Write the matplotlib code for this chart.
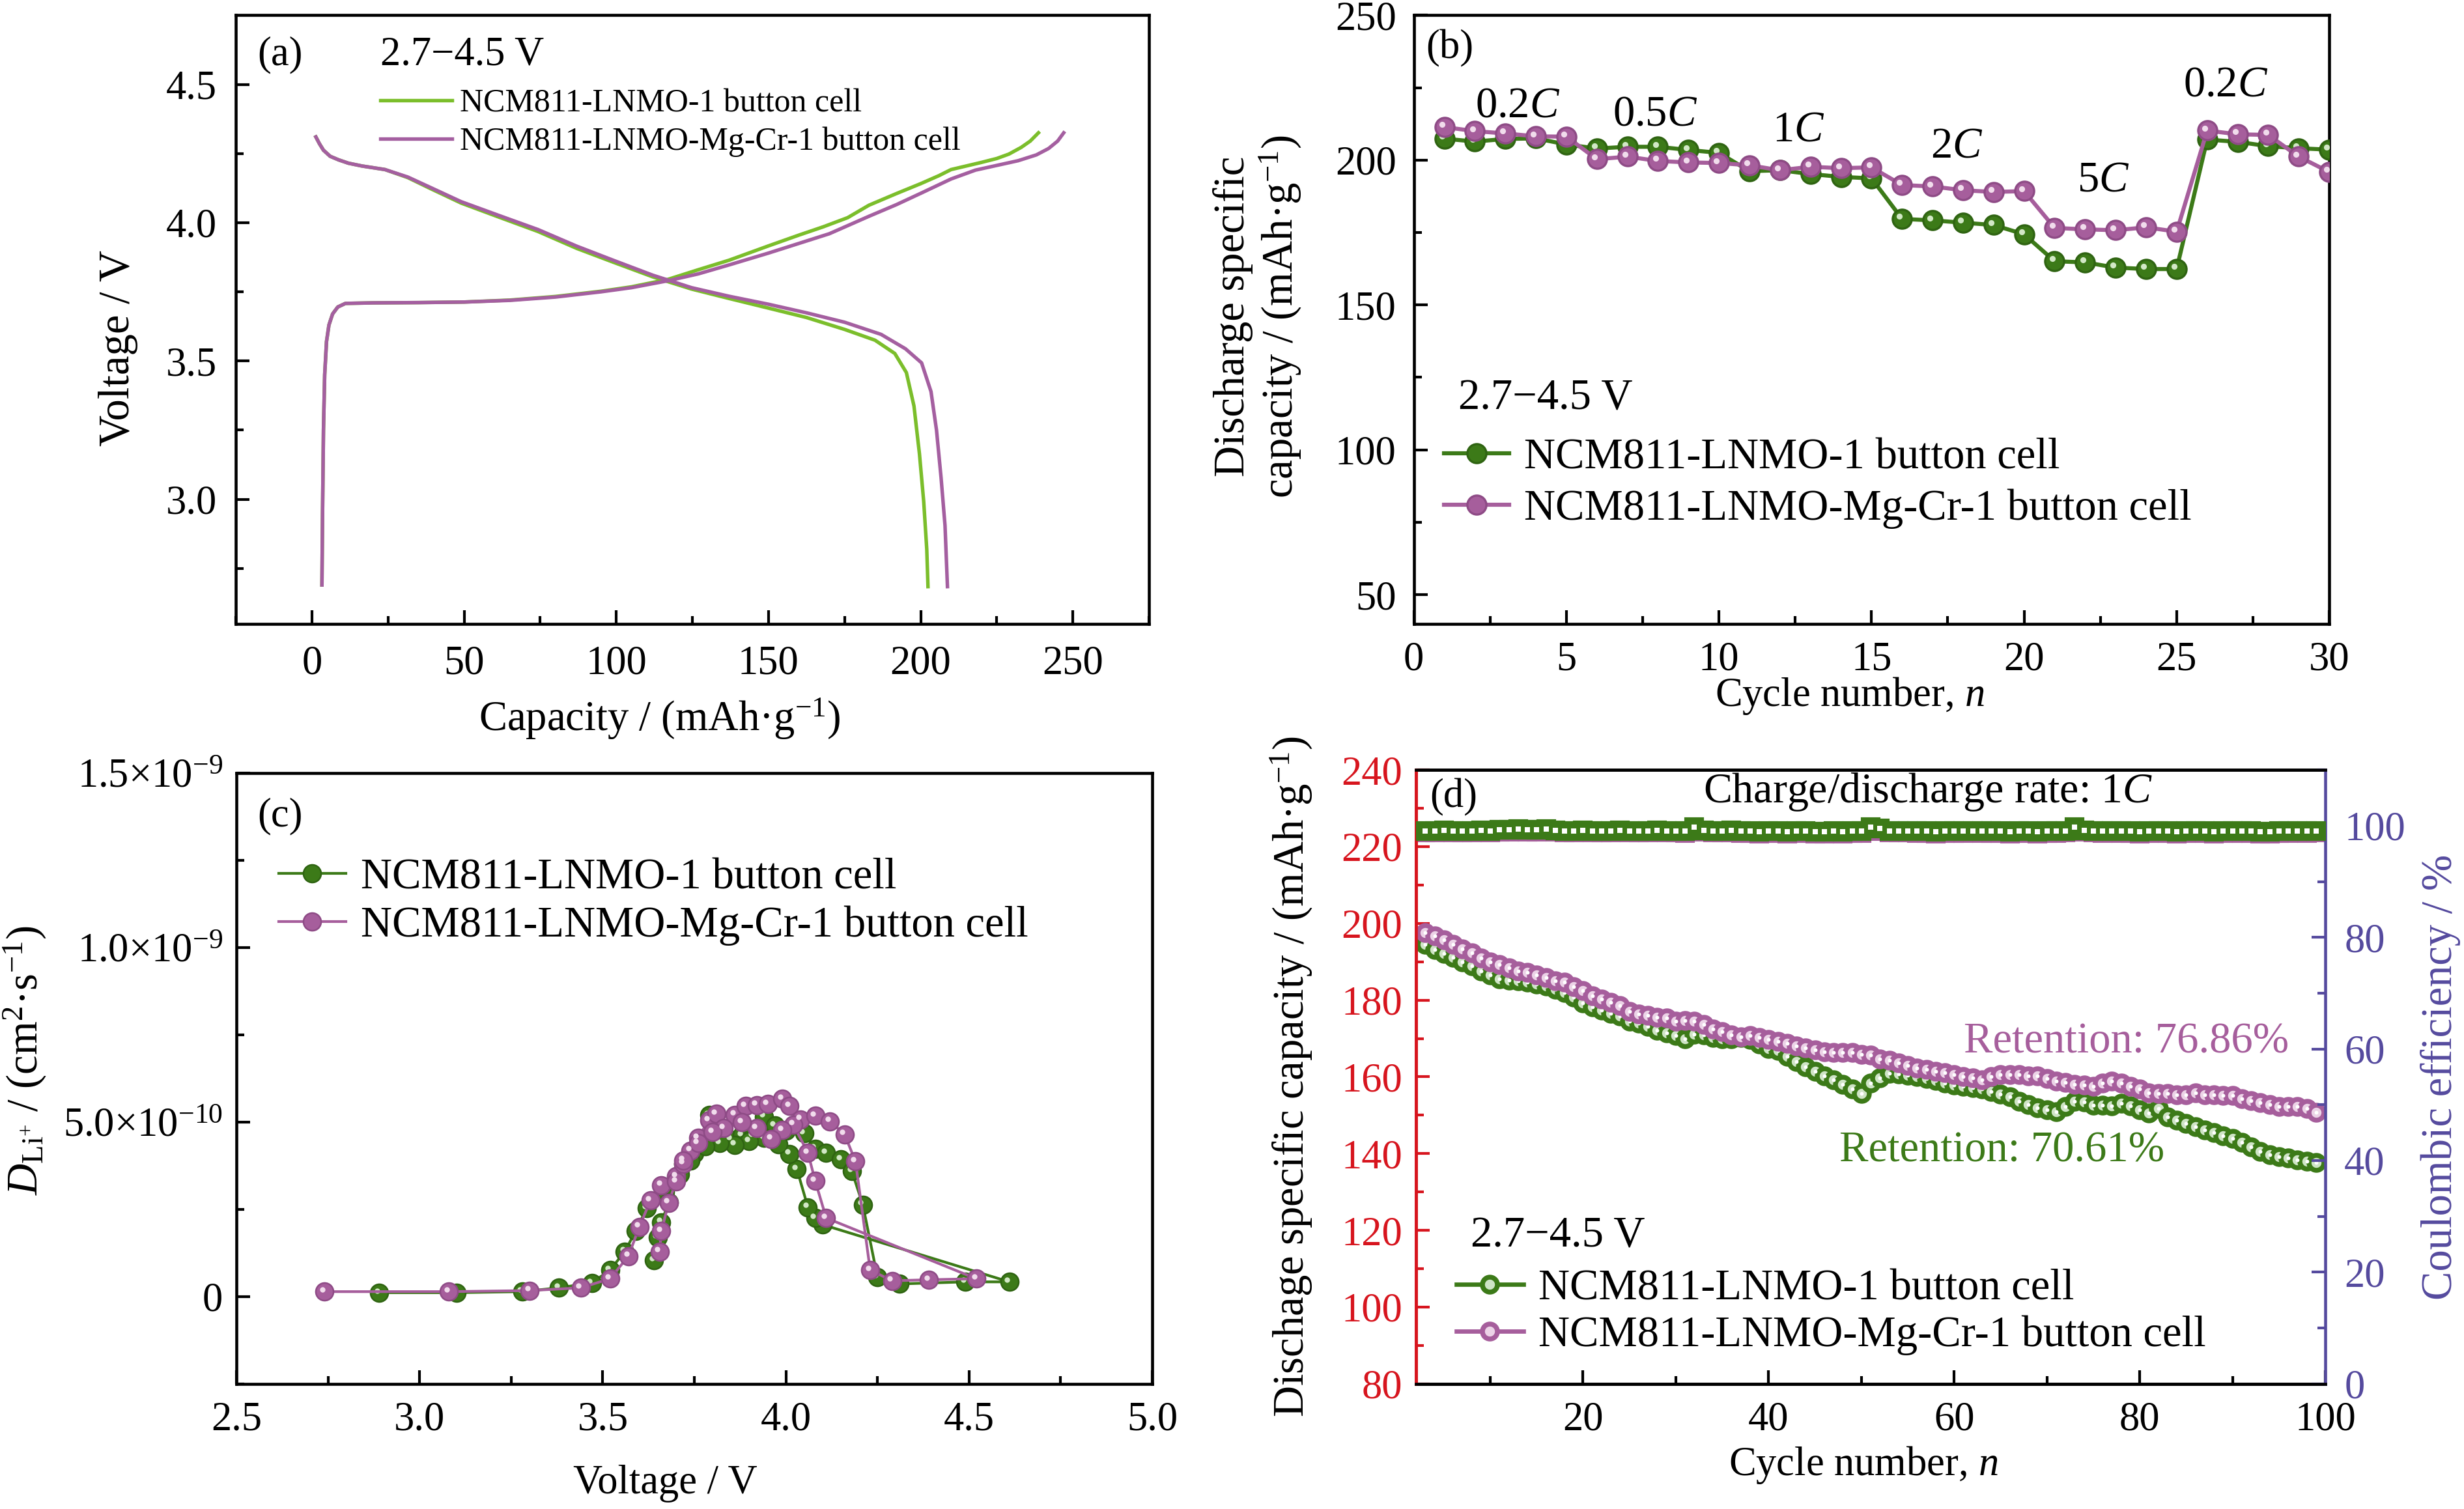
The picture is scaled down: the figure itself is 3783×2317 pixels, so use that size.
import numpy as np
import matplotlib
matplotlib.use("Agg")
import matplotlib.pyplot as plt
from matplotlib.ticker import MultipleLocator, FixedLocator, FixedFormatter, FormatStrFormatter
from matplotlib.transforms import offset_copy
from matplotlib.lines import Line2D

plt.rcParams['font.family'] = ['Liberation Serif', 'DejaVu Serif']
plt.rcParams['mathtext.fontset'] = 'custom'
plt.rcParams['mathtext.rm'] = 'Liberation Serif'
plt.rcParams['mathtext.it'] = 'Liberation Serif:italic'
plt.rcParams['mathtext.bf'] = 'Liberation Serif:bold'

# ---------------- data ----------------
LABEL_1 = "NCM811-LNMO-1 button cell"
LABEL_2 = "NCM811-LNMO-Mg-Cr-1 button cell"
RANGE_TXT = "2.7\u22124.5 V"

# (a) charge / discharge curves
a_g_chg_cap = [3.3, 3.5, 3.8, 4.2, 4.8, 5.6, 6.8, 8.5, 11, 20, 35, 50, 65, 80, 95, 105, 117, 127, 137,
               150, 160, 168, 176, 183, 192, 200, 206, 210, 215, 220, 225, 229, 233, 236, 238.7]
a_g_chg_v = [2.69, 2.95, 3.25, 3.45, 3.57, 3.63, 3.67, 3.695, 3.708, 3.71, 3.711, 3.713, 3.72, 3.733,
             3.752, 3.768, 3.795, 3.83, 3.864, 3.916, 3.955, 3.985, 4.018, 4.063, 4.105, 4.141, 4.17,
             4.192, 4.205, 4.218, 4.232, 4.248, 4.272, 4.295, 4.325]
a_p_chg_cap = [3.3, 3.5, 3.8, 4.2, 4.8, 5.6, 6.8, 8.5, 11, 20, 35, 50, 65, 80, 95, 105, 117, 127, 137,
               150, 160, 170, 183, 192, 200, 210, 218, 225, 232, 238, 242, 245, 247]
a_p_chg_v = [2.69, 2.95, 3.25, 3.45, 3.57, 3.63, 3.67, 3.695, 3.708, 3.71, 3.711, 3.713, 3.719, 3.731,
             3.75, 3.765, 3.79, 3.815, 3.847, 3.89, 3.925, 3.96, 4.023, 4.065, 4.106, 4.158, 4.19,
             4.207, 4.224, 4.245, 4.268, 4.295, 4.325]
a_g_dis_cap = [1.3, 2.5, 3.8, 6, 8.8, 12, 16.4, 24, 31.5, 39, 49, 61.7, 74.3, 87, 99.5, 112, 124.7,
               137, 150, 162.5, 175, 185, 191.5, 195.3, 197.8, 199.6, 201, 202, 202.4]
a_g_dis_v = [4.31, 4.285, 4.262, 4.24, 4.227, 4.215, 4.205, 4.192, 4.163, 4.123, 4.071, 4.019, 3.968,
             3.907, 3.855, 3.804, 3.76, 3.726, 3.691, 3.657, 3.614, 3.575, 3.527, 3.458, 3.337,
             3.164, 2.991, 2.819, 2.684]
a_p_dis_cap = [1.3, 2.5, 3.8, 6, 8.8, 12, 16.4, 24, 31.5, 39, 49, 61.7, 74.3, 87, 99.5, 112, 124.7,
               137, 150, 162.5, 175, 187, 195, 200.3, 203.4, 205.2, 206.7, 208, 208.8]
a_p_dis_v = [4.31, 4.285, 4.262, 4.24, 4.227, 4.215, 4.205, 4.192, 4.165, 4.127, 4.076, 4.025, 3.975,
             3.915, 3.862, 3.81, 3.765, 3.734, 3.705, 3.674, 3.64, 3.596, 3.544, 3.493, 3.389,
             3.25, 3.078, 2.905, 2.684]

# (b) rate capability
b_cycles = list(range(1, 31))
b_green = [207.4, 206.4, 207.3, 207.5, 205.4, 204.0, 204.6, 204.6, 203.5, 202.5,
           196.2, 196.5, 195.2, 194.2, 193.7, 179.7, 179.2, 178.4, 177.6, 174.4,
           165.1, 164.7, 162.9, 162.4, 162.4, 207.1, 206.3, 204.8, 204.1, 203.6]
b_pink = [211.4, 210.0, 209.2, 208.2, 208.1, 200.3, 201.2, 199.7, 199.2, 199.0,
          198.2, 196.5, 197.7, 197.2, 197.5, 191.4, 190.9, 189.6, 189.0, 189.3,
          176.6, 176.1, 175.8, 176.8, 175.3, 210.2, 208.9, 208.7, 201.2, 195.9]
b_rate_text = ["0.2$C$", "0.5$C$", "1$C$", "2$C$", "5$C$", "0.2$C$"]
b_rate_x = [3.4, 7.9, 12.6, 17.8, 22.6, 26.6]
b_rate_y = [218.6, 215.7, 210.4, 204.6, 193.0, 225.9]

# (c) Li+ diffusion coefficient (x1e-10 cm2/s)
c_g_chg_v = [2.89, 3.10, 3.28, 3.38, 3.47, 3.52, 3.56, 3.59, 3.62, 3.67, 3.70, 3.72, 3.75, 3.77, 3.79,
             3.82, 3.85, 3.88, 3.91, 3.94, 3.97, 4.00, 4.05, 4.08, 4.11, 4.15, 4.18, 4.21, 4.25, 4.31,
             4.49, 4.61]
c_g_chg_d = [0.11, 0.11, 0.14, 0.25, 0.39, 0.76, 1.29, 1.88, 2.53, 3.00, 3.40, 3.81, 4.10, 4.45, 5.20,
             4.60, 4.50, 4.62, 4.60, 5.15, 4.90, 4.75, 4.68, 4.24, 4.12, 3.93, 3.59, 2.63, 0.55, 0.36,
             0.42, 0.42]
c_g_dis_v = [4.10, 4.08, 4.06, 4.03, 4.01, 3.98, 3.94, 3.90, 3.86, 3.82, 3.78, 3.74, 3.71, 3.68, 3.66,
             3.65, 3.64]
c_g_dis_d = [2.06, 2.25, 2.56, 3.65, 4.09, 4.37, 4.55, 4.45, 4.35, 4.40, 4.30, 3.90, 3.50, 2.70, 2.13,
             1.69, 1.04]
c_p_chg_v = [2.74, 3.08, 3.30, 3.44, 3.52, 3.57, 3.60, 3.63, 3.66, 3.70, 3.72, 3.74, 3.76, 3.79, 3.81,
             3.86, 3.89, 3.92, 3.95, 3.99, 4.01, 4.04, 4.08, 4.12, 4.16, 4.19, 4.23, 4.29, 4.39, 4.52]
c_p_chg_d = [0.14, 0.14, 0.17, 0.25, 0.51, 1.16, 2.00, 2.75, 3.19, 3.45, 3.81, 4.18, 4.55, 5.05, 5.24,
             5.21, 5.46, 5.49, 5.52, 5.67, 5.46, 5.08, 5.18, 5.02, 4.65, 3.87, 0.76, 0.45, 0.48, 0.51]
c_p_dis_v = [4.11, 4.08, 4.06, 4.02, 3.99, 3.96, 3.92, 3.88, 3.83, 3.80, 3.76, 3.72, 3.70, 3.68, 3.66,
             3.655]
c_p_dis_d = [2.25, 3.31, 4.12, 4.93, 4.77, 4.52, 4.83, 4.99, 4.83, 4.71, 4.40, 3.90, 3.30, 2.69, 1.88,
             1.29]

# (d) cycling at 1C
d_cycles = list(range(3, 100))
d_green = [194.5, 193.1, 192.1, 191.1, 190.0, 188.9, 187.6, 186.5, 185.6, 185.2,
           185.0, 184.6, 184.1, 183.7, 182.9, 182.0, 180.7, 179.3, 178.3, 177.3,
           176.6, 175.9, 174.5, 174.0, 173.1, 172.2, 171.4, 170.8, 169.9, 171.1,
           170.9, 170.3, 169.9, 169.9, 170.2, 169.7, 168.5, 167.4, 166.8, 165.4,
           164.0, 162.6, 161.4, 160.3, 159.3, 158.1, 156.9, 155.6,
           158.4, 159.8, 160.9, 160.8, 160.4, 160.0, 159.5, 159.1, 158.4, 157.8,
           157.5, 157.2, 156.8, 156.1, 155.5, 154.8, 153.6, 152.7, 152.0, 151.4,
           150.9, 152.2, 153.7, 153.4, 152.6, 152.6, 152.4, 153.1, 152.4, 151.4,
           150.5, 151.8, 149.6, 148.7, 147.9, 147.0, 146.2, 145.4, 144.6, 143.9,
           142.9, 141.8, 140.5, 139.7, 139.2, 138.8, 138.3, 138.0, 137.6]
d_pink = [197.5, 196.7, 195.8, 194.6, 193.4, 192.4, 191.0, 189.9, 189.2, 188.5,
          187.5, 187.2, 186.5, 185.8, 185.0, 184.6, 183.5, 182.4, 181.2, 180.3,
          179.4, 178.6, 177.1, 176.3, 176.0, 175.6, 175.3, 174.5, 174.6, 174.5,
          173.7, 172.5, 171.8, 170.9, 170.5, 170.8, 170.2, 169.8, 169.2, 168.7,
          168.1, 167.6, 167.0, 166.5, 166.4, 166.4, 166.4, 165.9,
          165.7, 164.7, 164.3, 163.6, 162.9, 162.3, 161.9, 161.5, 161.1, 160.6,
          160.1, 159.8, 159.2, 160.0, 160.5, 160.6, 160.5, 160.3, 160.3, 159.5,
          158.9, 158.5, 158.1, 157.9, 157.5, 158.3, 158.9, 158.3, 157.5, 156.8,
          155.8, 155.6, 155.6, 155.4, 155.4, 155.9, 155.4, 155.4, 155.1, 155.2,
          154.3, 153.8, 153.2, 152.8, 152.2, 152.3, 152.3, 151.8, 150.8]
d_ce_green = [99.1, 99.1, 99.2, 99.1, 99.1, 99.1, 99.2, 99.1,
              99.3, 99.3, 99.4, 99.3, 99.3, 99.4,
              99.2, 99.1, 99.1, 99.2, 99.1, 99.1, 99.1, 99.2, 99.1, 99.1, 99.1, 99.2, 99.1, 99.1, 99.0,
              99.7,
              99.2, 99.1, 99.1, 99.2, 99.0, 99.0, 98.9, 99.0, 99.0, 98.9, 99.0, 99.0, 98.9, 98.9, 99.0,
              98.9, 99.0, 99.0,
              99.8, 99.5,
              99.1, 99.1, 99.1, 99.0, 99.0, 98.9, 99.0, 99.0, 99.0, 99.1, 99.0, 99.0, 99.0, 98.9, 99.0,
              99.0, 98.9, 99.0, 99.0, 99.1,
              99.8, 99.2,
              99.1, 99.0, 99.1, 99.0, 99.0, 98.9, 99.0, 99.0, 99.0, 98.9, 99.0, 99.0, 99.0, 98.9, 99.0,
              99.0, 99.0, 99.0, 98.9, 98.9, 99.0, 99.0, 99.1, 99.0, 99.1]
d_ce_pink = [98.8, 98.8, 98.9, 98.8, 98.8, 98.8, 98.9, 98.8,
             98.9, 98.9, 99.0, 98.9, 98.9, 99.0,
             98.9, 98.8, 98.8, 98.9, 98.8, 98.8, 98.8, 98.9, 98.8, 98.8, 98.8, 98.9, 98.8, 98.8, 98.7,
             99.1,
             98.9, 98.8, 98.8, 98.8, 98.7, 98.7, 98.6, 98.7, 98.7, 98.6, 98.7, 98.7, 98.6, 98.6, 98.7,
             98.6, 98.7, 98.7,
             99.2, 99.0,
             98.8, 98.8, 98.8, 98.7, 98.7, 98.6, 98.7, 98.7, 98.7, 98.8, 98.7, 98.7, 98.7, 98.6, 98.7,
             98.7, 98.6, 98.7, 98.7, 98.8,
             99.2, 98.9,
             98.8, 98.7, 98.8, 98.7, 98.7, 98.6, 98.7, 98.7, 98.7, 98.6, 98.7, 98.7, 98.7, 98.6, 98.7,
             98.7, 98.7, 98.7, 98.6, 98.6, 98.7, 98.7, 98.8, 98.7, 98.8]

# ---------------- style ----------------
GREEN_A = '#7BBE2B'
PINK_A = '#A45FA0'
GREEN = '#3C7A18'
GREEN_D = '#2F6412'
PINK = '#A65E9C'
PINK_D = '#8E4B86'
RED = '#D7151E'
PURPLE = '#554A9E'
FS = 15
FS_LAB = 16
FS_LEG = 16


def style(ax):
    ax.tick_params(which='both', direction='in', top=False, right=False, labelsize=FS)
    ax.tick_params(which='major', length=5, width=1.0)
    ax.tick_params(which='minor', length=2.8, width=1.0)
    for s in ax.spines.values():
        s.set_linewidth(1.1)


def place_xlabel(ax, x, y):
    ax.xaxis.set_label_coords(x, y)
    ax.xaxis.label.set_va('center')


def place_ylabel(ax, x, y):
    ax.yaxis.set_label_coords(x, y)
    ax.yaxis.label.set_va('center')
    ax.yaxis.label.set_rotation_mode('anchor')


fig = plt.figure(figsize=(3783 / 300, 2317 / 300), dpi=300)

# ---------------- (a) ----------------
ax = fig.add_axes([0.0957, 0.5867, 0.3706, 0.4032])
style(ax)
ax.plot(a_g_chg_cap, a_g_chg_v, color=GREEN_A, lw=1.3, zorder=2)
ax.plot(a_g_dis_cap, a_g_dis_v, color=GREEN_A, lw=1.3, zorder=2)
ax.plot(a_p_chg_cap, a_p_chg_v, color=PINK_A, lw=1.3, zorder=3)
ax.plot(a_p_dis_cap, a_p_dis_v, color=PINK_A, lw=1.3, zorder=3)
ax.set_xlim(-25, 275)
ax.set_ylim(2.55, 4.75)
ax.xaxis.set_major_locator(MultipleLocator(50))
ax.xaxis.set_minor_locator(MultipleLocator(25))
ax.yaxis.set_major_locator(FixedLocator([3.0, 3.5, 4.0, 4.5]))
ax.yaxis.set_minor_locator(FixedLocator([2.75, 3.25, 3.75, 4.25]))
ax.tick_params(axis='x', pad=8)
ax.tick_params(axis='y', pad=7)
ax.set_xlabel("Capacity / (mAh\u00b7g$^{-1}$)", fontsize=15.5)
place_xlabel(ax, 0.464, -0.156)
ax.set_ylabel("Voltage / V", fontsize=FS_LAB)
place_ylabel(ax, -0.129, 0.453)
ax.text(0.024, 0.935, "(a)", transform=ax.transAxes, fontsize=FS, va='center')
ax.text(0.158, 0.935, RANGE_TXT, transform=ax.transAxes, fontsize=FS, va='center')
ax.legend(handles=[Line2D([], [], color=GREEN_A, lw=1.3), Line2D([], [], color=PINK_A, lw=1.3)],
          labels=[LABEL_1, LABEL_2], loc='upper left', bbox_to_anchor=(0.158, 0.88),
          frameon=False, fontsize=12, handlelength=2.2, handletextpad=0.25,
          labelspacing=0.25, borderpad=0, borderaxespad=0)

# ---------------- (b) ----------------
ax = fig.add_axes([0.5738, 0.5867, 0.3715, 0.4032])
style(ax)
hl = offset_copy(ax.transData, fig=fig, x=-0.9, y=0.9, units='points')
lg, = ax.plot(b_cycles, b_green, '-o', color=GREEN, mfc=GREEN, mec=GREEN_D, ms=7, mew=0.8,
              lw=1.5, zorder=3)
ax.plot(b_cycles, b_green, 'o', color='#d2e8c6', ms=2.2, mew=0, transform=hl, zorder=3.1)
lp, = ax.plot(b_cycles, b_pink, '-o', color=PINK, mfc=PINK, mec=PINK_D, ms=7, mew=0.8,
              lw=1.5, zorder=4)
ax.plot(b_cycles, b_pink, 'o', color='#f1dcec', ms=2.2, mew=0, transform=hl, zorder=4.1)
ax.set_xlim(0, 30)
ax.set_ylim(40, 250)
ax.xaxis.set_major_locator(MultipleLocator(5))
ax.xaxis.set_minor_locator(MultipleLocator(2.5))
ax.yaxis.set_major_locator(MultipleLocator(50))
ax.yaxis.set_minor_locator(MultipleLocator(25))
ax.tick_params(axis='x', pad=6.5)
ax.tick_params(axis='y', pad=6.5)
ax.set_xlabel("Cycle number, $n$", fontsize=FS)
place_xlabel(ax, 0.476, -0.119)
ax.set_ylabel("Discharge specific\ncapacity / (mAh\u00b7g$^{-1}$)", fontsize=FS_LAB,
              linespacing=1.12)
place_ylabel(ax, -0.170, 0.505)
ax.text(0.013, 0.945, "(b)", transform=ax.transAxes, fontsize=FS, va='center')
for t, x, y in zip(b_rate_text, b_rate_x, b_rate_y):
    ax.text(x, y, t, fontsize=FS_LEG, ha='center', va='center')
ax.text(1.45, 117.6, RANGE_TXT, fontsize=FS_LEG, va='center')
ax.legend(handles=[lg, lp], labels=[LABEL_1, LABEL_2],
          loc='upper left', bbox_to_anchor=(0.033, 0.305), frameon=False, fontsize=FS_LEG,
          handlelength=1.5, handletextpad=0.35, labelspacing=0.25, borderpad=0, borderaxespad=0)

# ---------------- (c) ----------------
ax = fig.add_axes([0.0960, 0.0830, 0.3716, 0.4047])
style(ax)
hl = offset_copy(ax.transData, fig=fig, x=-0.8, y=0.8, units='points')
g_v = c_g_chg_v + c_g_dis_v
g_d = [v * 1e-10 for v in c_g_chg_d + c_g_dis_d]
p_v = c_p_chg_v + c_p_dis_v
p_d = [v * 1e-10 for v in c_p_chg_d + c_p_dis_d]
lg, = ax.plot(g_v, g_d, '-o', color=GREEN, mfc=GREEN, mec=GREEN_D, ms=6.5, mew=0.6, lw=1.0, zorder=3)
ax.plot(g_v, g_d, 'o', color='#d2e8c6', ms=2.0, mew=0, transform=hl, zorder=3.1)
lp, = ax.plot(p_v, p_d, '-o', color=PINK, mfc=PINK, mec=PINK_D, ms=6.5, mew=0.6, lw=1.0, zorder=4)
ax.plot(p_v, p_d, 'o', color='#f1dcec', ms=2.0, mew=0, transform=hl, zorder=4.1)
ax.set_xlim(2.5, 5.0)
ax.set_ylim(-0.25e-9, 1.5e-9)
ax.xaxis.set_major_locator(MultipleLocator(0.5))
ax.xaxis.set_minor_locator(MultipleLocator(0.25))
ax.yaxis.set_major_locator(FixedLocator([0, 0.5e-9, 1.0e-9, 1.5e-9]))
ax.yaxis.set_major_formatter(FixedFormatter(["0", "5.0\u00d710$^{-10}$", "1.0\u00d710$^{-9}$",
                                             "1.5\u00d710$^{-9}$"]))
ax.yaxis.set_minor_locator(FixedLocator([-0.25e-9, 0.25e-9, 0.75e-9, 1.25e-9]))
ax.xaxis.set_major_formatter(FormatStrFormatter('%.1f'))
ax.tick_params(axis='x', pad=6.5)
ax.tick_params(axis='y', pad=5)
ax.set_xlabel("Voltage / V", fontsize=FS)
place_xlabel(ax, 0.468, -0.164)
ax.set_ylabel("$D_{\\rm Li^{+}}$ / (cm$^{2}$\u00b7s$^{-1}$)", fontsize=FS_LAB)
place_ylabel(ax, -0.231, 0.53)
ax.text(0.023, 0.929, "(c)", transform=ax.transAxes, fontsize=FS, va='center')
ax.legend(handles=[lg, lp], labels=[LABEL_1, LABEL_2],
          loc='upper left', bbox_to_anchor=(0.046, 0.861), frameon=False, fontsize=FS_LEG,
          handlelength=1.55, handletextpad=0.35, labelspacing=0.18, borderpad=0, borderaxespad=0)

# ---------------- (d) ----------------
ax = fig.add_axes([0.5747, 0.0830, 0.3690, 0.4068])
ax2 = ax.twinx()
style(ax)
style(ax2)
ax2.tick_params(which='both', direction='in', left=False, right=True, labelleft=False,
                labelright=True, colors=PURPLE, labelsize=FS)
ax.tick_params(axis='y', which='both', colors=RED)
ax.spines['left'].set_color(RED)
ax2.spines['left'].set_color(RED)
ax2.spines['right'].set_color(PURPLE)
ax.spines['right'].set_visible(False)

ax.plot(d_cycles, d_green, '-o', color=GREEN, mfc='#cfe4c6', mec=GREEN, ms=5.5, mew=1.8, lw=1.6, zorder=3)
ax.plot(d_cycles, d_green, 'o', color='white', ms=1.4, mew=0, zorder=3.1)
ax.plot(d_cycles, d_pink, '-o', color=PINK, mfc='#ecd3e7', mec=PINK, ms=5.5, mew=1.8, lw=1.6, zorder=4)
ax.plot(d_cycles, d_pink, 'o', color='white', ms=1.4, mew=0, zorder=4.1)
ax2.plot(d_cycles, d_ce_pink, '-s', color=PINK, mfc=PINK, mec=PINK, ms=6.3, lw=1.2, zorder=2)
ax2.plot(d_cycles, d_ce_green, '-s', color=GREEN, mfc=GREEN, mec=GREEN, ms=6.3, lw=1.2, zorder=3)
ax2.plot(d_cycles, d_ce_green, 's', color='white', ms=2.0, mew=0, zorder=4)

ax.set_xlim(2, 100)
ax.set_ylim(80, 240)
ax2.set_ylim(0, 110)
ax.xaxis.set_major_locator(MultipleLocator(20))
ax.xaxis.set_minor_locator(MultipleLocator(10))
ax.yaxis.set_major_locator(MultipleLocator(20))
ax.yaxis.set_minor_locator(MultipleLocator(10))
ax2.yaxis.set_major_locator(MultipleLocator(20))
ax2.yaxis.set_minor_locator(MultipleLocator(10))
ax.tick_params(axis='x', pad=6.5)
ax.tick_params(axis='y', pad=5)
ax2.tick_params(axis='y', pad=7)
ax.set_xlabel("Cycle number, $n$", fontsize=FS)
place_xlabel(ax, 0.492, -0.132)
ax.set_ylabel("Dischage specific capacity / (mAh\u00b7g$^{-1}$)", fontsize=FS_LAB)
place_ylabel(ax, -0.137, 0.5)
ax2.set_ylabel("Coulombic efficiency / %", fontsize=FS_LAB, color=PURPLE, rotation=90)
place_ylabel(ax2, 1.127, 0.5)
ax.text(0.015, 0.955, "(d)", transform=ax.transAxes, fontsize=FS, va='center')
ax.text(0.563, 0.964, "Charge/discharge rate: 1$C$", transform=ax.transAxes, fontsize=15.8,
        ha='center', va='center')
ax.text(0.96, 0.557, "Retention: 76.86%", transform=ax.transAxes, fontsize=16, ha='right',
        va='center', color=PINK)
ax.text(0.823, 0.379, "Retention: 70.61%", transform=ax.transAxes, fontsize=16, ha='right',
        va='center', color=GREEN)
ax.text(0.06, 0.24, RANGE_TXT, transform=ax.transAxes, fontsize=16, va='center')
hg_d = Line2D([], [], color=GREEN, marker='o', mfc='#cfe4c6', mec=GREEN, ms=5.5, mew=1.8, lw=1.6)
hp_d = Line2D([], [], color=PINK, marker='o', mfc='#ecd3e7', mec=PINK, ms=5.5, mew=1.8, lw=1.6)
ax.legend(handles=[hg_d, hp_d], labels=[LABEL_1, LABEL_2], loc='upper left',
          bbox_to_anchor=(0.044, 0.187), frameon=False, fontsize=16, handlelength=1.55,
          handletextpad=0.35, labelspacing=0.15, borderpad=0, borderaxespad=0)

fig.savefig("out.png", dpi=300)
